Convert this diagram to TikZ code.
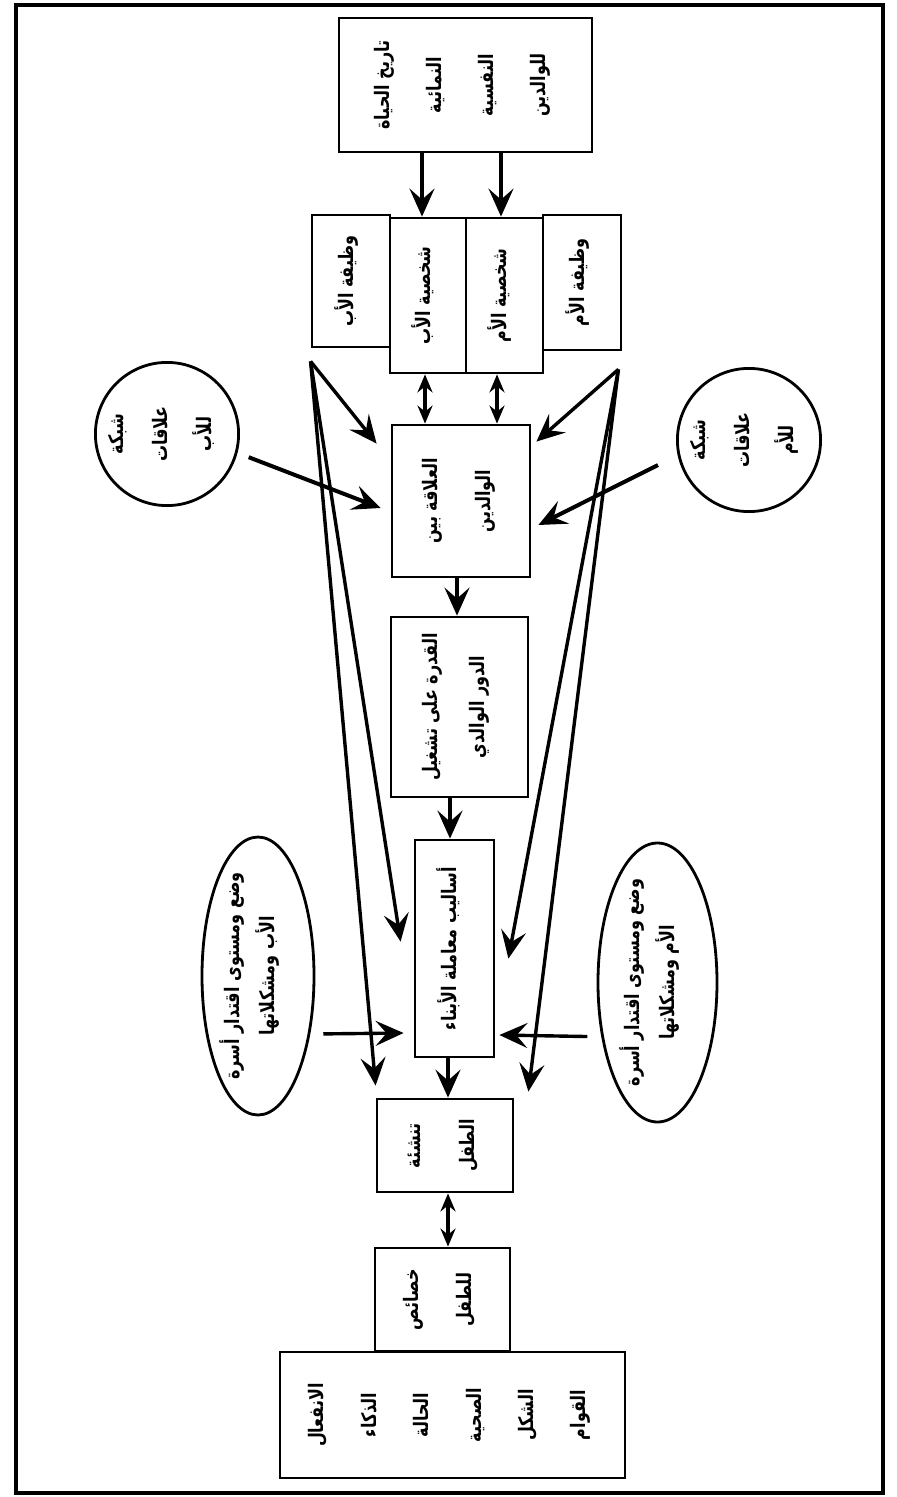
\documentclass[tikz,border=0pt]{standalone}
\usepackage{fontspec}
\TeXXeTstate=1
\newfontfamily\arabicfont[Script=Arabic]{DejaVu Sans}
\usetikzlibrary{arrows.meta,shapes.geometric,calc}
\newcommand\RL[1]{\beginR #1\endR}
\newcommand\VT[3]{\rotatebox{90}{\raisebox{0pt}[\dimexpr\height-4pt\relax][\dimexpr\depth+4pt\relax]{\scalebox{0.8}[1]{\fontsize{#1}{#2}\selectfont\arabicfont\bfseries\begin{tabular}{@{}c@{}}#3\end{tabular}}}}}
\tikzset{
  box/.style={draw, rectangle, line width=1.4pt, inner sep=0pt},
  rnd/.style={draw, circle, line width=1.4pt, inner sep=0pt, minimum size=71pt},
  ell/.style={draw, ellipse, line width=1.4pt, inner sep=0pt},
  arr/.style={line width=1.7pt, -{Stealth[length=14pt,width=12.5pt,inset=5.5pt]}},
  darr/.style={line width=1.6pt, {Stealth[length=9pt,width=7.5pt,inset=3pt]}-{Stealth[length=9pt,width=7.5pt,inset=3pt]}},
  frame/.style={line width=2.2pt}
}
\begin{document}
\begin{tikzpicture}[x=0.5pt,y=-0.5pt]
\useasboundingbox (0,0) rectangle (897,1497);
\draw[frame] (16,5) rectangle (883,1493);

% boxes
\node[box, minimum width=126.5pt, minimum height=67pt] (top) at (465.5,85)
  {\VT{10}{26}{\RL{تاريخ الحياة}\\\RL{النمائية}\\\RL{النفسية}\\\RL{للوالدين}}};
\node[box, minimum width=39pt, minimum height=66pt] (A) at (351,281)
  {\VT{10}{26}{\RL{وظيفة الأب}}};
\node[box, minimum width=38pt, minimum height=77.5pt] (B) at (428,295.5)
  {\VT{10}{26}{\RL{شخصية الأب}}};
\node[box, minimum width=38.5pt, minimum height=77.5pt] (C) at (504.5,295.5)
  {\VT{10}{26}{\RL{شخصية الأم}}};
\node[box, minimum width=39pt, minimum height=67.5pt] (D) at (582,282.5)
  {\VT{10}{26}{\RL{وظيفة الأم}}};
\node[box, minimum width=69pt, minimum height=76pt] (Rel) at (461,501)
  {\VT{10}{26.5}{\RL{العلاقة بين}\\\RL{الوالدين}}};
\node[box, minimum width=68.5pt, minimum height=90pt] (Q) at (459.5,707)
  {\VT{10}{23.5}{\RL{القدرة على تشغيل}\\\RL{الدور الوالدي}}};
\node[box, minimum width=39.5pt, minimum height=108.5pt] (Asal) at (454.5,948.5)
  {\VT{10}{26}{\RL{أساليب معاملة الأبناء}}};
\node[box, minimum width=68pt, minimum height=46.5pt] (Tan) at (445,1145.5)
  {\VT{10}{27}{\RL{تنشئة}\\\RL{الطفل}}};
\node[box, minimum width=67.5pt, minimum height=51.5pt] (Kh) at (442.5,1299.5)
  {\VT{10}{26.5}{\RL{خصائص}\\\RL{للطفل}}};
\node[box, minimum width=172.5pt, minimum height=63pt] (Bot) at (452.5,1415)
  {\VT{10}{26.2}{\RL{الانفعال}\\\RL{الذكاء}\\\RL{الحالة}\\\RL{الصحية}\\\RL{الشكل}\\\RL{القوام}}};

% circles and ellipses
\node[rnd] (cL) at (167,434) {\VT{10}{22}{\RL{شبكة}\\\RL{علاقات}\\\RL{للأب}}};
\node[rnd] (cR) at (749,440) {\VT{10}{22}{\RL{شبكة}\\\RL{علاقات}\\\RL{للأم}}};
\node[ell, minimum width=56pt, minimum height=139pt,
  label={[name=eLt]center:\VT{10}{17.5}{\RL{وضع ومستوى اقتدار أسرة}\\\RL{الأب ومشكلاتها}}}] (eL) at (258,976) {};
\node[ell, minimum width=59.5pt, minimum height=139.5pt,
  label={[name=eRt]center:\VT{10}{17.5}{\RL{وضع ومستوى اقتدار أسرة}\\\RL{الأم ومشكلاتها}}}] (eR) at (657.5,982.5) {};

% vertical chain
\coordinate (t1) at ($(top.south -| B.center)+(-6,0)$);
\coordinate (t2) at ($(top.south -| C.center)+(-3.5,0)$);
\draw[arr] (t1) -- (t1 |- B.north);
\draw[arr] (t2) -- (t2 |- C.north);
\coordinate (b1) at ($(B.south)+(-3,0)$);
\coordinate (c1) at ($(C.south)+(-7.5,0)$);
\draw[darr] (b1) -- (b1 |- Rel.north);
\draw[darr] (c1) -- (c1 |- Rel.north);
\coordinate (r1) at ($(Rel.south)+(-4,0)$);
\draw[arr] (r1) -- (r1 |- Q.north);
\coordinate (q1) at ($(Q.south)+(-9.5,0)$);
\draw[arr] (q1) -- (q1 |- Asal.north);
\coordinate (s1) at ($(Asal.south)+(-6.5,0)$);
\draw[arr] (s1) -- (s1 |- Tan.north);
\coordinate (n1) at ($(Tan.south)+(3,0)$);
\draw[darr] (n1) -- (n1 |- Kh.north);

% fans from the functions of father and mother
\coordinate (fa) at ($(A.south west)+(0,13)$);
\coordinate (fd) at ($(D.south east)+(-4,18)$);
\draw[arr] (fa) -- ($(Rel.north west)+(-14,20)$);
\draw[arr] (fa) -- ($(Asal.north west)+(-13,103)$);
\draw[arr] (fa) -- ($(Tan.north west)+(0,-12)$);
\draw[arr] (fd) -- ($(Rel.north east)+(5,18)$);
\draw[arr] (fd) -- ($(Asal.north east)+(13,120)$);
\draw[arr] (fd) -- ($(Tan.north east)+(14,-6)$);

% networks and family status
\draw[arr, line width=2pt, shorten <=6pt] (cL.-15) -- ($(Rel.west)+(-10,7)$);
\draw[arr, line width=2pt, shorten <=11pt] (cR.192) -- ($(Rel.east)+(7,24)$);
\draw[arr, shorten <=6.5pt] (eL.-48) -- ($(Asal.west)+(-10,84.5)$);
\draw[arr, shorten <=7pt] (eR.224) -- ($(Asal.east)+(4,86.5)$);
\end{tikzpicture}
\end{document}
